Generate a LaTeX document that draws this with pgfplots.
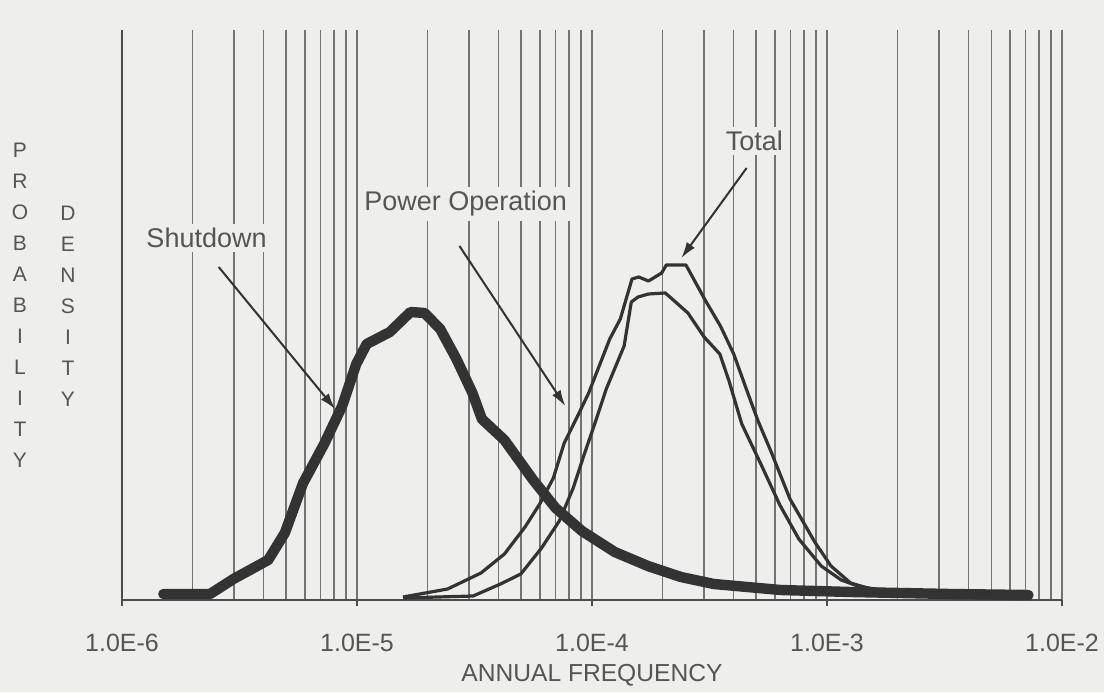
\documentclass[border=0pt]{standalone}
\usepackage{fontspec}
\setmainfont{Liberation Sans}
\usepackage{pgfplots}
\usepackage{pgfplotstable}
\pgfplotsset{compat=1.18}
\usetikzlibrary{arrows.meta}

\definecolor{paper}{HTML}{EEEEEC}
\definecolor{ink}{HTML}{333333}
\definecolor{gridc}{HTML}{737373}
\definecolor{txt}{HTML}{555555}

% annual frequency vs probability density (arbitrary units)
\pgfplotstableread{
x y
1.50e-6 6
2.37e-6 6
2.98e-6 21
4.19e-6 40
4.93e-6 67
5.90e-6 117
7.25e-6 156
8.65e-6 194
9.93e-6 236
1.10e-5 256
1.38e-5 268
1.69e-5 288
1.94e-5 287
2.26e-5 271
2.65e-5 241
3.10e-5 207
3.40e-5 181
4.24e-5 160
5.62e-5 120
7.00e-5 92
9.06e-5 69
1.25e-4 48
1.73e-4 34
2.39e-4 23
3.30e-4 16
6.35e-4 10
1.26e-3 8
3.36e-3 6
7.20e-3 5
}\shutdown

\pgfplotstableread{
x y
1.57e-5 3
2.43e-5 11
3.37e-5 27
4.24e-5 46
5.19e-5 73
5.99e-5 96
6.85e-5 122
7.62e-5 157
8.73e-5 185
9.68e-5 207
1.19e-4 261
1.32e-4 281
1.48e-4 321
1.58e-4 323
1.74e-4 319
1.98e-4 327
2.07e-4 335
2.51e-4 335
2.58e-4 330
3.03e-4 300
3.52e-4 274
4.01e-4 246
4.52e-4 212
5.09e-4 179
5.79e-4 148
6.96e-4 101
8.87e-4 58
1.04e-3 34
1.26e-3 17
1.49e-3 12
2.06e-3 8
5.48e-3 6
7.20e-3 5
}\total

\pgfplotstableread{
x y
1.57e-5 2
3.12e-5 4
4.08e-5 16
4.98e-5 26
6.10e-5 52
7.26e-5 79
8.32e-5 112
9.25e-5 145
1.03e-4 177
1.15e-4 211
1.37e-4 254
1.47e-4 298
1.57e-4 303
1.74e-4 306
2.05e-4 307
2.17e-4 302
2.56e-4 287
3.00e-4 263
3.50e-4 246
3.83e-4 219
4.34e-4 176
5.23e-4 136
6.30e-4 95
7.59e-4 61
9.45e-4 34
1.15e-3 20
1.35e-3 14
1.73e-3 9
3.36e-3 5
}\power

\begin{document}
\begin{tikzpicture}
\fill[paper, use as bounding box] (-61pt,-46pt) rectangle (491pt,300pt);
\begin{axis}[
  at={(0,0)}, anchor=south west,
  scale only axis, width=470pt, height=285pt,
  xmode=log, xmin=1e-6, xmax=1e-2, ymin=0, ymax=570,
  axis x line=bottom, axis y line=left,
  axis line style={-, draw=black!70, line width=1pt},
  xtick={1e-6,1e-5,1e-4,1e-3,1e-2},
  xticklabels={1.0E-6,1.0E-5,1.0E-4,1.0E-3,1.0E-2},
  minor xtick={2e-6,3e-6,4e-6,5e-6,6e-6,7e-6,8e-6,9e-6,
               2e-5,3e-5,4e-5,5e-5,6e-5,7e-5,8e-5,9e-5,
               2e-4,3e-4,4e-4,5e-4,6e-4,7e-4,8e-4,9e-4,
               2e-3,3e-3,4e-3,5e-3,6e-3,7e-3,8e-3,9e-3},
  ytick=\empty,
  xmajorgrids, xminorgrids,
  major grid style={gridc, line width=0.85pt},
  minor grid style={gridc, line width=0.75pt},
  tick align=outside, major tick length=3pt, minor tick length=0pt,
  tick style={black!70, line width=0.8pt},
  xticklabel style={font=\fontsize{12.5}{15}\selectfont, text=txt, anchor=base, yshift=-22.5pt},
  xlabel={ANNUAL FREQUENCY},
  xlabel style={font=\fontsize{12.3}{14}\selectfont, text=txt, at={(axis description cs:0.5,0)}, anchor=base, yshift=-40.5pt},
  clip=false,
]
\addplot[ink, line width=5.2pt, line join=round, line cap=round] table {\shutdown};
\addplot[ink, line width=1.6pt, line join=round] table {\power};
\addplot[ink, line width=1.6pt, line join=round] table {\total};

\node[fill=paper, inner sep=2pt, text=txt, font=\fontsize{13.5}{16}\selectfont] at (axis cs:2.29e-6,362) {Shutdown};
\draw[ink, line width=1pt, -{Latex[length=8pt,width=5pt]}] (axis cs:2.58e-6,333) -- (axis cs:8.07e-6,191);

\node[fill=paper, inner sep=2pt, text=txt, font=\fontsize{13.5}{16}\selectfont] at (axis cs:2.90e-5,396) {Power Operation};
\draw[ink, line width=1pt, -{Latex[length=8pt,width=5pt]}] (axis cs:2.73e-5,354) -- (axis cs:7.70e-5,194);

\node[fill=paper, inner sep=2pt, text=txt, font=\fontsize{13.5}{16}\selectfont] at (axis cs:4.91e-4,459) {Total};
\draw[ink, line width=1pt, -{Latex[length=8pt,width=5pt]}] (axis cs:4.55e-4,432) -- (axis cs:2.40e-4,342);
\end{axis}
\node[text=txt, align=center, font=\fontsize{10.5}{15.5}\selectfont] at (-51pt,147.5pt) {P\\R\\O\\B\\A\\B\\I\\L\\I\\T\\Y};
\node[text=txt, align=center, font=\fontsize{10.5}{15.5}\selectfont] at (-27pt,147pt) {D\\E\\N\\S\\I\\T\\Y};
\end{tikzpicture}
\end{document}
